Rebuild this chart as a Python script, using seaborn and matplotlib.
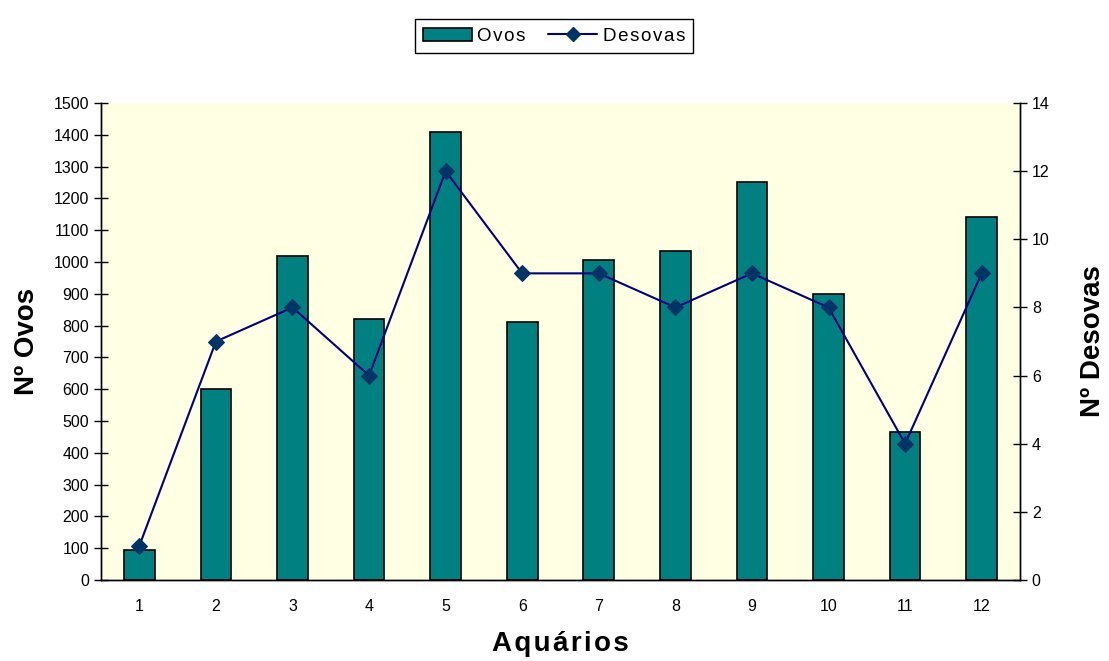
import numpy as np
import pandas as pd
import matplotlib
matplotlib.use('Agg')
import matplotlib.pyplot as plt
import seaborn as sns
from matplotlib.lines import Line2D
from matplotlib.patches import Patch

# Dados do gráfico
aquarios = ['1', '2', '3', '4', '5', '6', '7', '8', '9', '10', '11', '12']
ovos = [95, 600, 1020, 820, 1410, 810, 1005, 1035, 1250, 900, 465, 1140]
desovas = [1, 7, 8, 6, 12, 9, 9, 8, 9, 8, 4, 9]

df = pd.DataFrame({'Aquario': aquarios, 'Ovos': ovos, 'Desovas': desovas})
df['pos'] = np.arange(len(df))

sns.set_style('white')
plt.rcParams['font.family'] = ['Liberation Sans', 'DejaVu Sans']
plt.rcParams['text.color'] = 'black'
plt.rcParams['axes.labelcolor'] = 'black'
plt.rcParams['xtick.color'] = 'black'
plt.rcParams['ytick.color'] = 'black'


def espacar(texto, sep='\u200a'):
    # espaçamento entre letras, como no original
    return sep.join(texto)


fig = plt.figure(figsize=(11.09, 6.61), dpi=100)
ax = fig.add_axes([0.0911, 0.1225, 0.8286, 0.7217])
ax.set_facecolor('#FFFFE3')

sns.barplot(data=df, x='Aquario', y='Ovos', ax=ax, color='#008080',
            edgecolor='black', linewidth=1.2, width=0.4, saturation=1)

ax2 = ax.twinx()
sns.lineplot(data=df, x='pos', y='Desovas', ax=ax2, color='#000080',
             linewidth=1.5, marker='D', markersize=8,
             markerfacecolor='#003366', markeredgecolor='#003366')

ax.set_xlim(-0.5, 11.5)
ax.set_ylim(0, 1500)
ax.set_yticks(range(0, 1501, 100))
ax2.set_ylim(0, 14)
ax2.set_yticks(range(0, 15, 2))

# Ticks do eixo x entre categorias
ax.set_xticks(np.arange(-0.5, 12, 1), minor=True)
ax.tick_params(axis='x', which='major', length=0, labelsize=11.5, pad=14)
ax.tick_params(axis='x', which='minor', direction='inout', length=10, width=1, color='#333333')
ax.tick_params(axis='y', direction='inout', length=10, width=1, labelsize=11.5, left=True)
ax2.tick_params(axis='y', direction='inout', length=10, width=1, labelsize=11.5, right=True)

for a in (ax, ax2):
    a.spines['top'].set_visible(False)
    for s in ('left', 'right', 'bottom'):
        a.spines[s].set_color('black')
        a.spines[s].set_linewidth(1)

ax.set_xlabel(espacar('Aquários'), fontsize=20, fontweight='bold', labelpad=12)
ax.set_ylabel('Nº Ovos', fontsize=20, fontweight='bold', labelpad=10)
ax2.set_ylabel('Nº Desovas', fontsize=20, fontweight='bold', labelpad=22)

handles = [
    Patch(facecolor='#008080', edgecolor='black', linewidth=1.2),
    Line2D([0], [0], color='#000080', linewidth=1.5, marker='D', markersize=7,
           markerfacecolor='#003366', markeredgecolor='#003366'),
]
fig.legend(handles, [espacar('Ovos'), espacar('Desovas')], loc='upper center',
           bbox_to_anchor=(0.4995, 0.985), ncol=2, fontsize=13.5,
           frameon=True, fancybox=False, edgecolor='black', framealpha=1,
           handlelength=2.6, handletextpad=0.3, columnspacing=1.2,
           borderpad=0.45)

fig.savefig('out.png', dpi=100, facecolor='white')
